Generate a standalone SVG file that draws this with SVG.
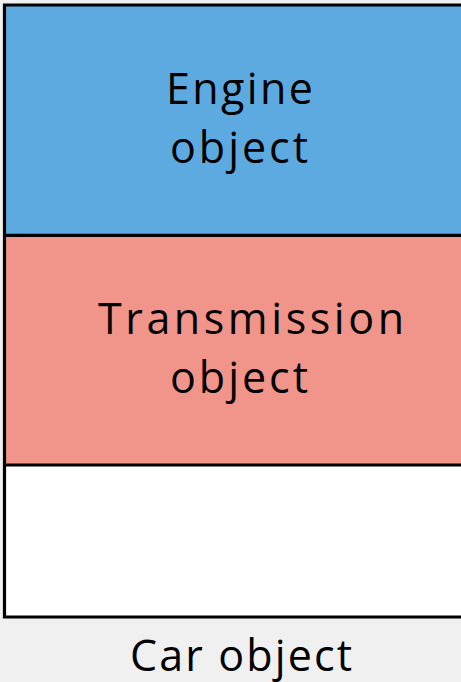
<svg xmlns="http://www.w3.org/2000/svg" width="461" height="682" viewBox="0 0 461 682">
  <style>
    .lbl { font-family: "Open Sans", "Liberation Sans", sans-serif; font-size: 43px; fill: #000; }
    .edge { stroke: #000; stroke-width: 3.2; fill: none; }
  </style>
  <rect x="0" y="0" width="461" height="682" fill="#f0f0f0"/>
  <g id="car">
    <rect x="4.5" y="5" width="470" height="612" fill="#ffffff"/>
    <g id="engine">
      <rect x="4.5" y="5" width="470" height="230" fill="#5daae1"/>
      <text class="lbl" x="166" y="104" textLength="147" lengthAdjust="spacing">Engine</text>
      <text class="lbl" x="170" y="163" textLength="138" lengthAdjust="spacing">object</text>
    </g>
    <g id="transmission">
      <rect x="4.5" y="235" width="470" height="230" fill="#f1948a"/>
      <text class="lbl" x="98" y="334" textLength="306" lengthAdjust="spacing">Transmission</text>
      <text class="lbl" x="170" y="393" textLength="138" lengthAdjust="spacing">object</text>
    </g>
    <g id="frame">
      <path class="edge" d="M475 5 H4.5 V617 H475 M4.5 235.3 H475 M4.5 465 H475"/>
    </g>
    <text class="lbl" x="130" y="671" textLength="222" lengthAdjust="spacing">Car object</text>
  </g>
</svg>
